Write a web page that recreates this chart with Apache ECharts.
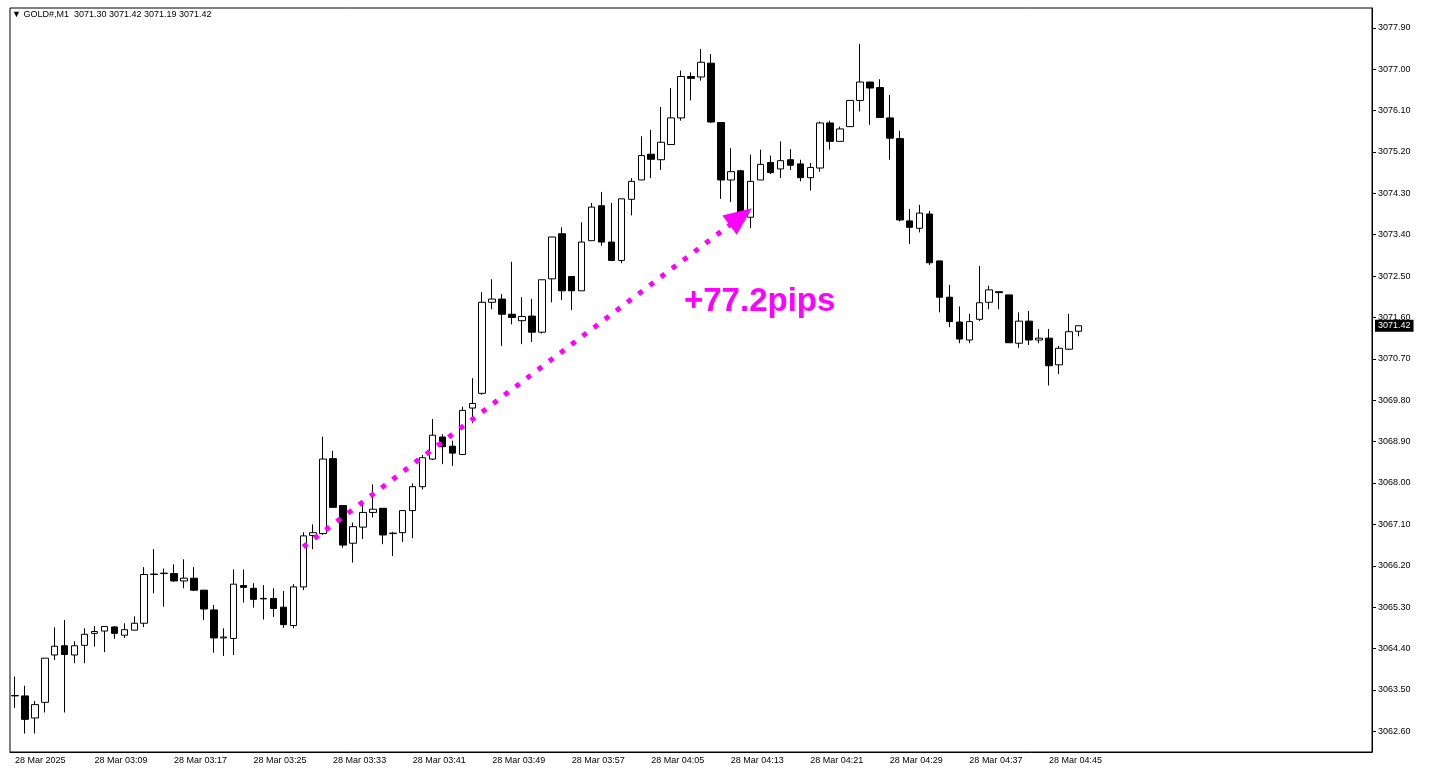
<!DOCTYPE html>
<html>
<head>
<meta charset="utf-8">
<script src="https://cdn.jsdelivr.net/npm/echarts@6/dist/echarts.min.js"></script>
<style>
html, body { margin: 0; padding: 0; background: #fff; }
#chartContainer { width: 1429px; height: 781px; }
</style>
</head>
<body>
<div id="chartContainer"></div>
<script>
// one row per minute, from 03:01: open, close, low, high
var opens = [3063.37,3063.37,3062.89,3063.23,3064.26,3064.46,3064.26,3064.47,3064.73,3064.78,
	3064.87,3064.69,3064.80,3064.95,3066.01,3066.03,3066.03,3065.87,3065.93,3065.67,
	3065.24,3064.63,3064.62,3065.77,3065.71,3065.49,3065.49,3065.30,3064.90,3065.74,
	3066.86,3066.90,3068.53,3067.51,3066.69,3067.04,3067.36,3067.45,3066.90,3066.92,
	3067.40,3067.92,3068.52,3069.00,3068.80,3068.62,3069.63,3069.95,3071.93,3072.00,
	3071.67,3071.53,3071.63,3071.28,3072.44,3073.42,3072.49,3072.18,3073.27,3074.03,
	3073.24,3072.84,3074.17,3074.59,3075.15,3075.03,3075.36,3075.94,3076.84,3076.83,
	3077.13,3075.84,3074.59,3074.79,3073.78,3074.59,3074.97,3074.83,3075.03,3074.94,
	3074.64,3074.85,3075.83,3075.43,3075.75,3076.32,3076.72,3076.60,3075.94,3075.49,
	3073.70,3073.54,3073.85,3072.83,3072.04,3071.50,3071.11,3071.56,3071.93,3072.16,
	3072.09,3071.04,3071.52,3071.11,3071.15,3070.57,3070.91,3071.30];
var closes = [3063.38,3062.86,3063.18,3064.19,3064.45,3064.27,3064.46,3064.71,3064.77,3064.88,
	3064.73,3064.81,3064.95,3066.01,3066.02,3066.04,3065.87,3065.93,3065.67,3065.26,
	3064.63,3064.65,3065.80,3065.73,3065.47,3065.48,3065.27,3064.92,3065.74,3066.85,
	3066.92,3068.52,3067.47,3066.65,3067.05,3067.36,3067.43,3066.87,3066.91,3067.40,
	3067.92,3068.55,3069.04,3068.79,3068.65,3069.58,3069.73,3071.93,3072.00,3071.67,
	3071.60,3071.62,3071.28,3072.42,3073.35,3072.18,3072.18,3073.24,3074.00,3073.24,
	3072.84,3074.18,3074.56,3075.12,3075.04,3075.41,3075.94,3076.84,3076.80,3077.15,
	3075.85,3074.59,3074.77,3073.79,3074.56,3074.93,3074.75,3075.01,3074.91,3074.64,
	3074.86,3075.83,3075.43,3075.70,3076.32,3076.72,3076.59,3075.95,3075.50,3073.72,
	3073.56,3073.87,3072.79,3072.04,3071.51,3071.13,3071.51,3071.92,3072.20,3072.14,
	3071.05,3071.52,3071.11,3071.15,3070.55,3070.93,3071.29,3071.42];
var lows = [3063.11,3062.55,3062.55,3063.01,3064.15,3063.01,3064.08,3064.08,3064.44,3064.32,
	3064.61,3064.63,3064.80,3064.87,3065.60,3065.31,3065.85,3065.71,3065.65,3065.02,
	3064.31,3064.24,3064.26,3065.40,3065.29,3065.03,3065.09,3064.85,3064.84,3065.67,
	3066.56,3066.87,3067.47,3066.59,3066.27,3066.78,3067.25,3066.67,3066.41,3066.72,
	3066.80,3067.86,3068.50,3068.41,3068.37,3068.62,3069.30,3069.92,3071.78,3070.98,
	3071.45,3071.02,3071.07,3071.25,3071.93,3071.98,3071.76,3072.18,3073.27,3073.16,
	3072.84,3072.78,3073.82,3074.59,3074.63,3074.81,3075.36,3075.88,3076.32,3076.75,
	3075.83,3074.18,3074.11,3073.65,3073.54,3074.59,3074.72,3074.63,3074.81,3074.56,
	3074.36,3074.77,3075.25,3075.43,3075.75,3076.08,3075.79,3075.95,3075.03,3073.69,
	3073.20,3073.45,3072.74,3071.71,3071.39,3071.04,3071.04,3071.52,3071.78,3071.78,
	3071.05,3070.94,3071.00,3071.04,3070.12,3070.37,3070.89,3071.19];
var highs = [3063.79,3063.59,3063.26,3064.19,3064.86,3065.02,3064.56,3064.84,3064.89,3064.88,
	3064.89,3064.95,3065.10,3066.17,3066.56,3066.14,3066.23,3066.34,3066.17,3065.67,
	3065.35,3064.84,3066.12,3066.12,3065.82,3065.78,3065.71,3065.65,3065.80,3066.93,
	3067.10,3069.01,3068.70,3067.51,3067.14,3067.61,3067.97,3067.45,3066.94,3067.40,
	3067.99,3068.61,3069.39,3069.06,3068.92,3069.66,3070.28,3072.15,3072.43,3072.11,
	3072.81,3072.04,3072.00,3072.42,3073.35,3073.56,3072.49,3073.67,3074.09,3074.33,
	3074.09,3074.18,3074.63,3075.54,3075.68,3076.18,3076.59,3076.97,3076.93,3077.44,
	3077.33,3075.84,3075.28,3074.81,3075.14,3075.25,3075.12,3075.43,3075.26,3075.03,
	3074.96,3075.86,3075.88,3075.75,3076.32,3077.55,3076.72,3076.78,3076.44,3075.66,
	3073.96,3074.05,3073.92,3072.83,3072.31,3071.84,3071.68,3072.72,3072.29,3072.16,
	3072.09,3071.71,3071.74,3071.35,3071.35,3070.98,3071.68,3071.42];
var priceTicks = [3062.60,3063.50,3064.40,3065.30,3066.20,3067.10,3068.00,3068.90,3069.80,
	3070.70,3071.60,3072.50,3073.40,3074.30,3075.20,3076.10,3077.00,3077.90];
var startMinute = 3 * 60 + 1;
var slotCount = 137;
var lastLabelIndex = 104;
var lastPrice = 3071.42;
var moveFrom = [29, 3066.61];
var moveTo = [73, 3073.79];
var moveText = '+77.2pips';

var option = null;

function pad(n) {
	return (n < 10 ? '0' : '') + n;
}

function buildCategories() {
	var cats = [];
	for (var i = 0; i < slotCount; i++) {
		var m = startMinute + i;
		cats.push(i == 0 ? '28 Mar 2025' : '28 Mar ' + pad(Math.floor(m / 60)) + ':' + pad(m % 60));
	}
	return cats;
}

function buildCandles() {
	var rows = [];
	for (var i = 0; i < opens.length; i++) {
		rows.push([opens[i], closes[i], lows[i], highs[i]]);
	}
	return rows;
}

function showTime(i) {
	return i % 8 == 0 && i <= lastLabelIndex;
}

function initOption() {
	var font = 'Liberation Sans';
	option = {
		animation: false,
		backgroundColor: '#fff',
		grid: { left: 10, right: 57, top: 8, bottom: 29, show: true, borderColor: '#000', borderWidth: 1 },
		xAxis: {
			type: 'category',
			data: buildCategories(),
			boundaryGap: true,
			axisLine: { lineStyle: { color: '#000' } },
			axisTick: { alignWithLabel: true, interval: showTime, length: 4, lineStyle: { color: '#000' } },
			axisLabel: {
				interval: showTime,
				color: '#000', fontFamily: font, fontSize: 9, align: 'left', margin: 4
			},
			splitLine: { show: false }
		},
		yAxis: [{
			type: 'value',
			position: 'right',
			min: 3062.15,
			max: 3078.33,
			axisLine: { show: true, lineStyle: { color: '#000' } },
			axisTick: { show: true, customValues: priceTicks, length: 4, lineStyle: { color: '#000' } },
			axisLabel: {
				customValues: priceTicks,
				color: '#000', fontFamily: font, fontSize: 9, margin: 6,
				formatter: function(v) { return v.toFixed(2); }
			},
			splitLine: { show: false }
		}, {
			type: 'value',
			position: 'right',
			min: 3062.15,
			max: 3078.33,
			axisLine: { show: false },
			axisTick: { show: false },
			axisLabel: {
				customValues: [lastPrice],
				color: '#fff', backgroundColor: '#000', padding: [2, 3, 1, 3],
				fontFamily: font, fontSize: 9, margin: 3,
				formatter: function(v) { return v.toFixed(2); }
			},
			splitLine: { show: false }
		}],
		graphic: [
			{ type: 'text', left: 12, top: 10, style: { text: '\u25BC GOLD#,M1  3071.30 3071.42 3071.19 3071.42', fill: '#000', font: '9px ' + font } },
			{ type: 'text', left: 684, top: 285, style: { text: moveText, fill: '#ff00ff', font: 'bold 33px ' + font } }
		],
		series: [{
			type: 'candlestick',
			data: buildCandles(),
			barWidth: 7,
			itemStyle: { color: '#fff', color0: '#000', borderColor: '#000', borderColor0: '#000', borderWidth: 1 },
			markLine: {
				silent: true,
				animation: false,
				data: [
					[{ coord: moveFrom, symbol: 'none' }, { coord: moveTo, symbol: 'triangle', symbolSize: [24, 28] }]
				],
				lineStyle: { color: '#ff00ff', width: 5, type: [5, 9] },
				label: { show: false }
			}
		}]
	};
}

function initChart() {
	initOption();
	var chart = echarts.init(document.getElementById('chartContainer'));
	chart.setOption(option);
}

initChart();
</script>
</body>
</html>
